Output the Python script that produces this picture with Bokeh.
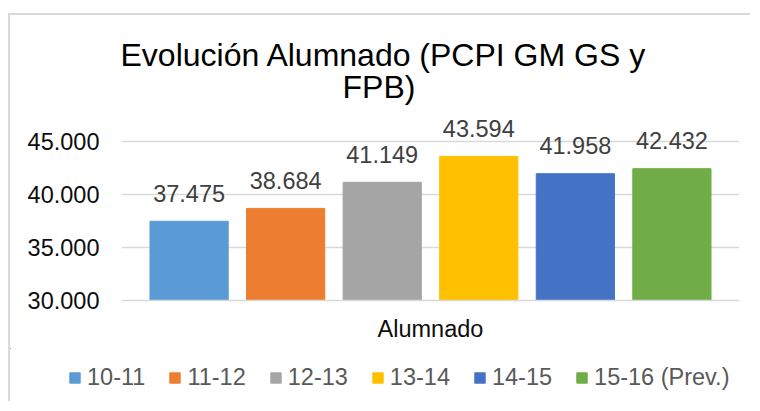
from bokeh.plotting import figure
from bokeh.models import (ColumnDataSource, Legend, LegendItem, Title, FixedTicker,
                          CustomJSTickFormatter, Range1d)
from bokeh.core.properties import value
from bokeh.embed import file_html
from bokeh.resources import INLINE

# ---- data ----
categories = ["10-11", "11-12", "12-13", "13-14", "14-15", "15-16 (Prev.)"]
values = [37475, 38684, 41149, 43594, 41958, 42432]
colors = ["#5B9BD5", "#ED7D31", "#A5A5A5", "#FFC000", "#4472C4", "#70AD47"]
y_ticks = [30000, 35000, 40000, 45000]
title_lines = ["Evolución Alumnado (PCPI GM GS y", "FPB)"]
axis_title = "Alumnado"

FONT = "Liberation Sans"
BORDER = "2px solid #d9d9d9"

labels = [f"{v:,}".replace(",", ".") for v in values]
src = ColumnDataSource(dict(x=list(range(len(categories))), value=values,
                            color=colors, label=labels, cat=categories))

p = figure(width=742, height=335, output_backend="svg", toolbar_location=None,
           x_range=Range1d(-0.70, 5.70), y_range=Range1d(30000, 47450),
           min_border_left=111, min_border_right=13, min_border_top=100,
           min_border_bottom=50, title=title_lines[0])
p.styles = {"margin": "13px 0px 0px 8px", "border-top": BORDER, "border-left": BORDER}
p.outline_line_color = None
p.background_fill_color = "white"
p.border_fill_color = "white"

# titles (two lines)
p.title.align = "left"
p.title.offset = -1
p.title.text_font = FONT
p.title.text_font_size = "32px"
p.title.text_font_style = "normal"
p.title.text_color = "#000000"
p.title.standoff = -34
t2 = Title(text=title_lines[1], align="left", offset=221, text_font=FONT,
           text_font_size="32px", text_font_style="normal", text_color="#000000",
           standoff=22)
p.add_layout(t2, "above")

# bars
r = p.vbar(x="x", top="value", bottom=y_ticks[0], width=0.81, color="color", source=src)

# data labels
p.text(x="x", y="value", text="label", source=src, text_align="center",
       text_baseline="alphabetic", y_offset=-28, text_font=value(FONT),
       text_font_size="23.5px", text_color="#404040")

# y axis
p.yaxis.ticker = FixedTicker(ticks=y_ticks)
p.yaxis.formatter = CustomJSTickFormatter(code="return (tick/1000).toFixed(3);")
p.yaxis.axis_line_color = None
p.yaxis.major_tick_line_color = None
p.yaxis.minor_tick_line_color = None
p.yaxis.major_tick_out = 0
p.yaxis.major_tick_in = 0
p.yaxis.major_label_standoff = 22
p.yaxis.major_label_text_font = FONT
p.yaxis.major_label_text_font_size = "23.5px"
p.yaxis.major_label_text_color = "#0d0d0d"

p.ygrid.grid_line_color = "#d9d9d9"
p.ygrid.grid_line_width = 1.5
p.xgrid.grid_line_color = None

# x axis
p.xaxis.ticker = FixedTicker(ticks=[])
p.xaxis.axis_line_color = "#d9d9d9"
p.xaxis.axis_line_width = 1.5
p.xaxis.major_tick_line_color = None
p.xaxis.minor_tick_line_color = None
p.xaxis.major_tick_out = 0
p.xaxis.major_tick_in = 0
p.xaxis.major_label_text_font_size = "0px"
p.xaxis.axis_label = axis_title
p.xaxis.axis_label_text_font = FONT
p.xaxis.axis_label_text_font_size = "23.5px"
p.xaxis.axis_label_text_font_style = "normal"
p.xaxis.axis_label_text_color = "#0d0d0d"
p.xaxis.axis_label_standoff = 15

# legend strip (second root; its bars lie outside its ranges, only the legend shows)
pl = figure(width=742, height=53, output_backend="svg", toolbar_location=None,
            x_range=Range1d(100, 101), y_range=Range1d(0, 1),
            x_axis_type=None, y_axis_type=None,
            min_border_left=0, min_border_right=0, min_border_top=0, min_border_bottom=0)
pl.styles = {"margin": "0px 0px 0px 8px", "border-left": BORDER}
pl.outline_line_color = None
pl.xgrid.visible = False
pl.ygrid.visible = False
rl = pl.vbar(x="x", top="value", bottom=y_ticks[0], width=0.81, color="color", source=src)

items = [LegendItem(label=c, renderers=[rl], index=i) for i, c in enumerate(categories)]
legend = Legend(items=items, orientation="horizontal", location=(58, 10),
                glyph_width=13, glyph_height=13, label_standoff=6, spacing=23,
                label_height=25, padding=0, margin=0, border_line_color=None,
                background_fill_alpha=0, label_text_font=FONT,
                label_text_font_size="23.5px", label_text_color="#595959")
pl.add_layout(legend, "center")

open("out.html", "w").write(file_html([p, pl], INLINE))
